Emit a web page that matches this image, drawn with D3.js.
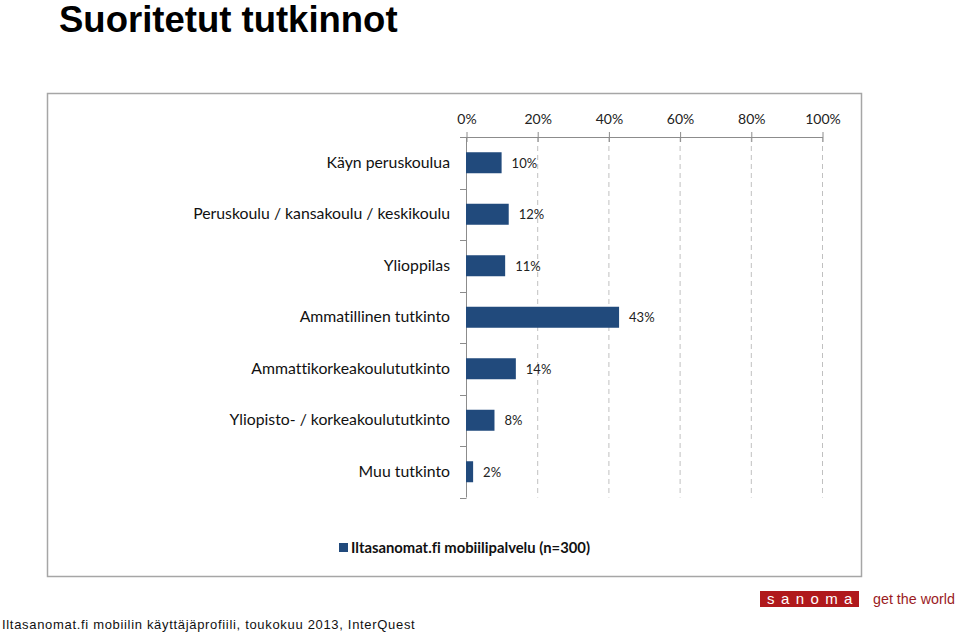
<!DOCTYPE html>
<html><head><meta charset="utf-8">
<script src="https://cdn.jsdelivr.net/npm/d3@7"></script>
<style>body{margin:0;background:#fff;}svg{display:block;}text{font-variant-ligatures:none;}</style>
</head><body>
<svg id="c" width="960" height="633"></svg>
<script>
const categories = ["Käyn peruskoulua","Peruskoulu / kansakoulu / keskikoulu","Ylioppilas","Ammatillinen tutkinto","Ammattikorkeakoulututkinto","Yliopisto- / korkeakoulututkinto","Muu tutkinto"];
const values = [10,12,11,43,14,8,2];
const tickValues = [0,20,40,60,80,100];
const seriesName = "Iltasanomat.fi mobiilipalvelu (n=300)";
const title = "Suoritetut tutkinnot";
const footer = "Iltasanomat.fi mobiilin käyttäjäprofiili, toukokuu 2013, InterQuest";

(function(){
const svg = d3.select("#c");
const barColor = "#214a7c";
const labelFont = "Lato, 'Open Sans', sans-serif";

svg.append("text").attr("x",59).attr("y",32).attr("font-family","'Liberation Sans', Arial, sans-serif")
  .attr("font-weight","bold").attr("font-size",36.5).attr("fill","#000").text(title);

// frame
svg.append("rect").attr("x",47.5).attr("y",93.5).attr("width",814).attr("height",483)
  .attr("fill","none").attr("stroke","#a6a6a6").attr("stroke-width",1.5);

const x = d3.scaleLinear().domain([0,100]).range([466,822]);
const plotTop = 137, plotBottom = 497.5;
const y = d3.scaleBand().domain(categories).range([plotTop,plotBottom]).paddingInner(0.6).paddingOuter(0.3);
const step = (plotBottom-plotTop)/categories.length;

// gridlines
svg.append("g").selectAll("line").data(tickValues.slice(1)).join("line")
  .attr("x1",d=>x(d)+0.5).attr("x2",d=>x(d)+0.5).attr("y1",plotTop).attr("y2",plotBottom)
  .attr("stroke","#c0c0c0").attr("stroke-dasharray","5,4").attr("stroke-width",1);

// top axis
const xAxis = d3.axisTop(x).tickValues(tickValues).tickFormat(d=>d+"%").tickSize(5).tickSizeOuter(0);
const gx = svg.append("g").attr("transform",`translate(0.5,${plotTop})`).call(xAxis);
gx.select(".domain").attr("stroke","#8c8c8c");
gx.selectAll(".tick line").attr("stroke","#8c8c8c").attr("y2",-5).attr("y1",5);
gx.selectAll(".tick text").attr("font-family",labelFont).attr("font-size",14).attr("fill","#222").attr("y",-13);

// left axis
svg.append("line").attr("x1",466.5).attr("x2",466.5).attr("y1",plotTop).attr("y2",plotBottom).attr("stroke","#8c8c8c");
const bounds = d3.range(categories.length+1).map(i=>plotTop+i*step);
svg.append("g").selectAll("line").data(bounds).join("line")
  .attr("x1",460).attr("x2",466.5).attr("y1",d=>Math.round(d)+0.5).attr("y2",d=>Math.round(d)+0.5).attr("stroke","#8c8c8c");

// bars
const bh = 21;
svg.append("g").selectAll("rect").data(values).join("rect")
  .attr("x",x(0)).attr("y",(d,i)=>y(categories[i])+y.bandwidth()/2-bh/2)
  .attr("width",d=>x(d)-x(0)).attr("height",bh).attr("fill",barColor);

// value labels
svg.append("g").selectAll("text").data(values).join("text")
  .attr("x",d=>x(d)+10).attr("y",(d,i)=>y(categories[i])+y.bandwidth()/2+5)
  .attr("font-family",labelFont).attr("font-size",13).attr("fill","#222").text(d=>d+"%");

// category labels
svg.append("g").selectAll("text").data(categories).join("text")
  .attr("x",450).attr("y",d=>y(d)+y.bandwidth()/2+5).attr("text-anchor","end")
  .attr("font-family",labelFont).attr("font-size",15.8).attr("fill","#111").text(d=>d);

// legend
svg.append("rect").attr("x",339).attr("y",543).attr("width",9).attr("height",9).attr("fill",barColor);
svg.append("text").attr("x",351).attr("y",553).attr("font-family",labelFont).attr("font-weight","bold")
  .attr("font-size",14.8).attr("fill","#111").text(seriesName);

// footer
svg.append("text").attr("x",2).attr("y",629).attr("font-family","'Liberation Sans', Arial, sans-serif")
  .attr("font-size",13).attr("letter-spacing",0.68).attr("fill","#111").text(footer);

// sanoma logo
svg.append("rect").attr("x",760).attr("y",591).attr("width",99).attr("height",16).attr("fill","#b0191c");
svg.append("text").attr("x",767).attr("y",604).attr("font-family","'Liberation Sans', Arial, sans-serif")
  .attr("font-size",15).attr("letter-spacing",6.4).attr("fill","#fff").text("sanoma");
svg.append("text").attr("x",873).attr("y",604).attr("font-family","'Liberation Sans', Arial, sans-serif")
  .attr("font-size",14.3).attr("fill","#9b1b1e").text("get the world");
})();
</script>
</body></html>
